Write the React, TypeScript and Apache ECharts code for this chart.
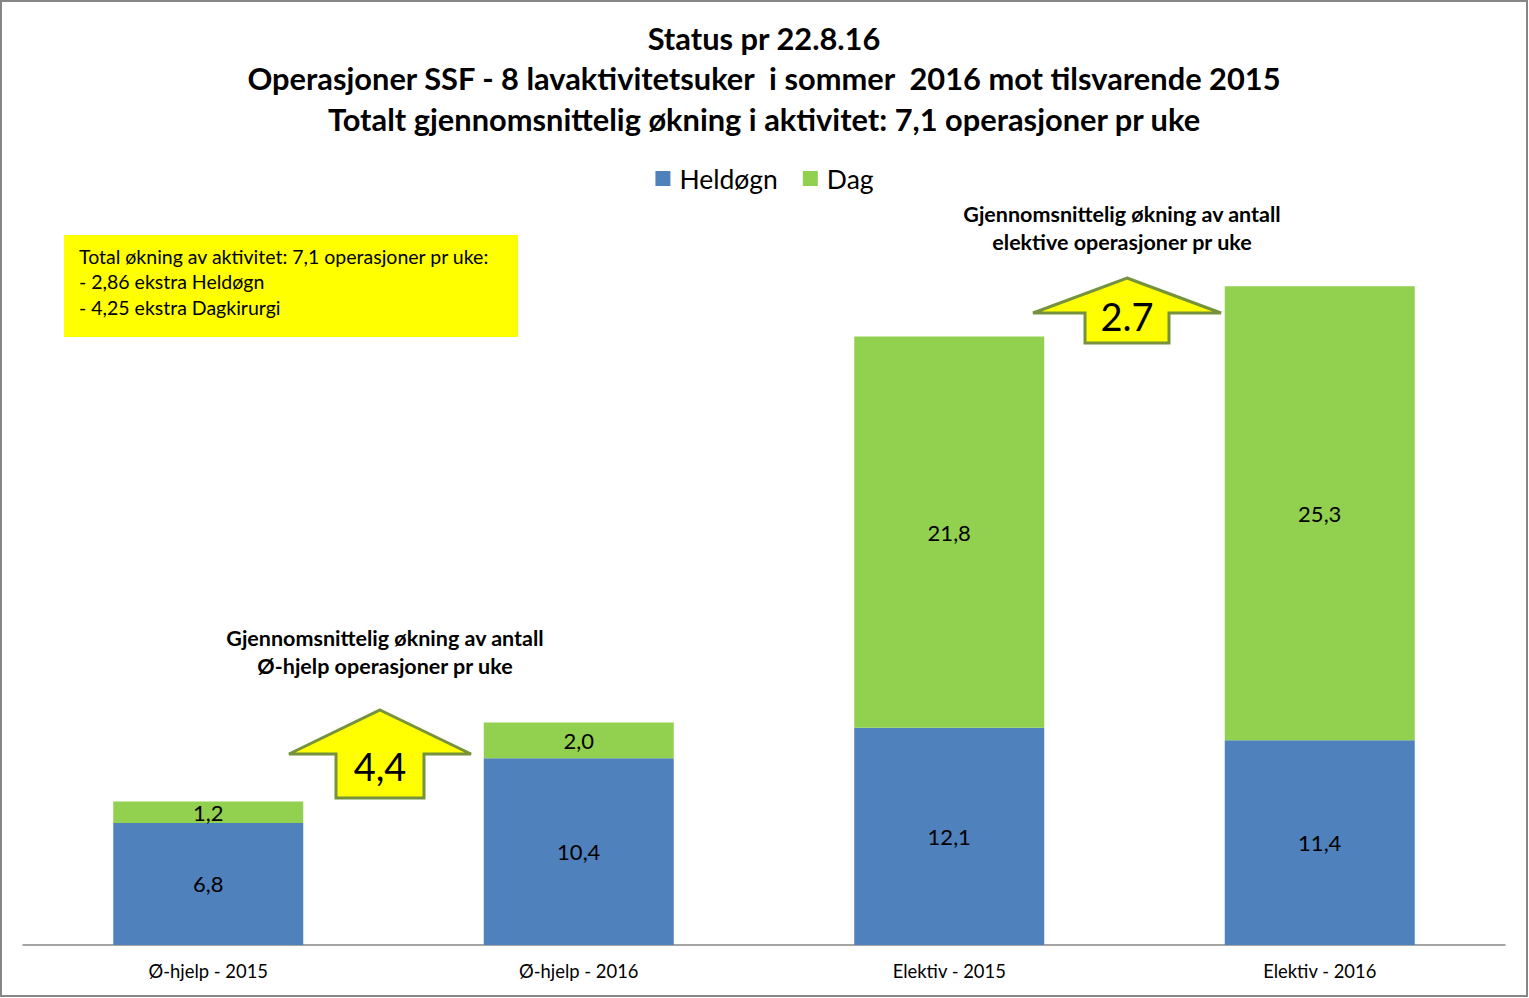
import React, { useEffect, useRef } from "react";
import * as echarts from "echarts";

const categories = ["Ø-hjelp - 2015", "Ø-hjelp - 2016", "Elektiv - 2015", "Elektiv - 2016"];
const heldognValues = [6.8, 10.4, 12.1, 11.4];
const dagValues = [1.2, 2.0, 21.8, 25.3];
const titleLines = [
  "Status pr 22.8.16",
  "Operasjoner SSF - 8 lavaktivitetsuker  i sommer  2016 mot tilsvarende 2015",
  "Totalt gjennomsnittelig økning i aktivitet: 7,1 operasjoner pr uke",
];
const boxLines = [
  "Total økning av aktivitet: 7,1 operasjoner pr uke:",
  "- 2,86 ekstra Heldøgn",
  "- 4,25 ekstra Dagkirurgi",
];
const noteLeft = ["Gjennomsnittelig økning av antall", "Ø-hjelp operasjoner pr uke"];
const noteRight = ["Gjennomsnittelig økning av antall", "elektive operasjoner pr uke"];
const arrowLabels = ["4,4", "2.7"];

const FONT = "Lato, 'Open Sans', 'Liberation Sans', sans-serif";

function arrow(tipX: number, tipY: number, halfW: number, shoulderY: number, shaftHalf: number, bottomY: number, label: string, fontSize: number, labelY: number) {
  return [
    {
      type: "polygon",
      shape: {
        points: [
          [tipX, tipY],
          [tipX + halfW, shoulderY],
          [tipX + shaftHalf, shoulderY],
          [tipX + shaftHalf, bottomY],
          [tipX - shaftHalf, bottomY],
          [tipX - shaftHalf, shoulderY],
          [tipX - halfW, shoulderY],
        ],
      },
      style: { fill: "#FFFF00", stroke: "#76923C", lineWidth: 3 },
      z: 10,
    },
    {
      type: "text",
      x: tipX,
      y: labelY,
      style: { text: label, fontSize, fontFamily: FONT, fill: "#000", align: "center", verticalAlign: "middle" },
      z: 11,
    },
  ];
}

export default function App() {
  const ref = useRef<HTMLDivElement>(null);
  useEffect(() => {
    document.body.style.margin = "0";
    const chart = echarts.init(ref.current!, null, { renderer: "svg" });
    const graphics: any[] = [
      {
        type: "rect",
        shape: { x: 1, y: 1, width: 1526, height: 995 },
        style: { fill: "none", stroke: "#868686", lineWidth: 2 },
        z: 0,
      },
      ...titleLines.map((t, i) => ({
        type: "text",
        x: 764,
        y: 38 + i * 40.5,
        style: { text: t, fontSize: 30.8, fontWeight: "bold", fontFamily: FONT, fill: "#000", align: "center", verticalAlign: "middle" },
      })),
      {
        type: "rect",
        shape: { x: 64, y: 235, width: 454, height: 102 },
        style: { fill: "#FFFF00" },
        z: 5,
      },
      ...boxLines.map((t, i) => ({
        type: "text",
        x: 79,
        y: 256 + i * 25.5,
        style: { text: t, fontSize: 19.5, fontFamily: FONT, fill: "#000", align: "left", verticalAlign: "middle" },
        z: 6,
      })),
      ...noteLeft.map((t, i) => ({
        type: "text",
        x: 385,
        y: 638 + i * 28,
        style: { text: t, fontSize: 21.5, fontWeight: "bold", fontFamily: FONT, fill: "#000", align: "center", verticalAlign: "middle" },
      })),
      ...noteRight.map((t, i) => ({
        type: "text",
        x: 1122,
        y: 214 + i * 28,
        style: { text: t, fontSize: 21.5, fontWeight: "bold", fontFamily: FONT, fill: "#000", align: "center", verticalAlign: "middle" },
      })),
      ...arrow(380, 710, 91, 754, 44, 798, arrowLabels[0], 38, 766),
      ...arrow(1127, 278, 94, 313, 42, 343, arrowLabels[1], 38, 316),
    ];
    const labelFmt = (p: any) => p.value.toFixed(1).replace(".", ",");
    chart.setOption({
      animation: false,
      backgroundColor: "#fff",
      legend: {
        top: 160,
        left: "center",
        itemWidth: 15,
        itemHeight: 15,
        itemGap: 25,
        icon: "rect",
        textStyle: { fontSize: 26.5, fontFamily: FONT, color: "#000", padding: [0, 0, 0, 4] },
        data: ["Heldøgn", "Dag"],
      },
      grid: { left: 23, right: 24, top: 227, bottom: 53, containLabel: false },
      xAxis: {
        type: "category",
        data: categories,
        axisLine: { lineStyle: { color: "#868686", width: 1.5 } },
        axisTick: { show: false },
        axisLabel: { fontSize: 18.4, fontFamily: FONT, color: "#000", margin: 17 },
      },
      yAxis: {
        type: "value",
        min: 0,
        max: 40,
        show: false,
        splitLine: { show: false },
      },
      series: [
        {
          name: "Heldøgn",
          type: "bar",
          stack: "total",
          barWidth: 190,
          data: heldognValues,
          itemStyle: { color: "#4F81BD" },
          label: { show: true, position: "inside", fontSize: 22, fontFamily: FONT, color: "#000", formatter: labelFmt },
        },
        {
          name: "Dag",
          type: "bar",
          stack: "total",
          barWidth: 190,
          data: dagValues,
          itemStyle: { color: "#92D050" },
          label: { show: true, position: "inside", fontSize: 22, fontFamily: FONT, color: "#000", formatter: labelFmt },
        },
      ],
      graphic: graphics,
    });
    return () => chart.dispose();
  }, []);
  return <div ref={ref} style={{ width: 1529, height: 998 }} />;
}
